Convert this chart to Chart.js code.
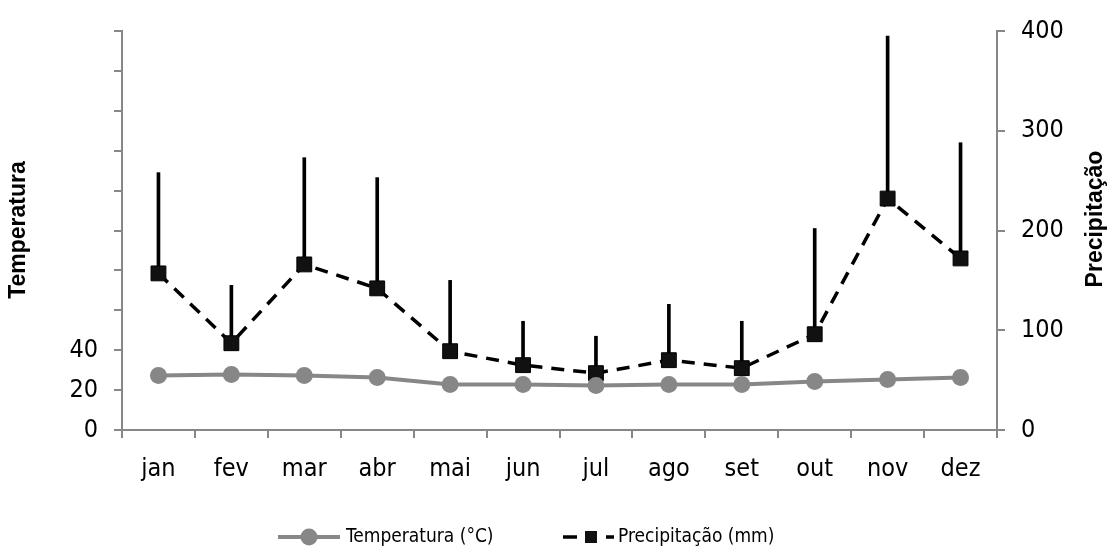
<!DOCTYPE html>
<html>
<head>
<meta charset="utf-8">
<script src="https://cdn.jsdelivr.net/npm/chart.js@4"></script>
<style>
  html, body { margin: 0; padding: 0; background: #fff; }
</style>
</head>
<body>
<canvas id="climaChart" width="1115" height="556"></canvas>
<script>
const meses = ['jan', 'fev', 'mar', 'abr', 'mai', 'jun', 'jul', 'ago', 'set', 'out', 'nov', 'dez'];
const temperatura = [27.3, 27.8, 27.3, 26.3, 22.8, 22.8, 22.3, 22.8, 22.8, 24.3, 25.3, 26.3];
const precipitacao = [157, 87, 166, 142, 79, 65, 57, 70, 62, 96, 232, 172];
// desvio padrão, só para cima
const desvioPrecip = [101, 58, 107, 111, 71, 44, 37, 56, 47, 106, 163, 116];
const rotulosTemp = [0, 20, 40];

const CINZA = '#878787';
const NARROW = "'Liberation Sans Narrow', 'DejaVu Sans Condensed', 'Arial Narrow', sans-serif";
const BOLD = "'Liberation Sans', Arial, sans-serif";

// títulos dos eixos (o da direita lê de baixo para cima, igual ao da esquerda)
const titulosPlugin = {
    id: 'titulosEixos',
    afterDraw(chart) {
        const ctx = chart.ctx;
        ctx.save();
        ctx.fillStyle = '#000';
        ctx.font = 'bold 23px ' + BOLD;
        ctx.textAlign = 'center';
        ctx.textBaseline = 'middle';
        [['Temperatura', 19, 230], ['Precipitação', 1096, 219]].forEach(([txt, x, y]) => {
            ctx.save();
            ctx.translate(x, y);
            ctx.rotate(-Math.PI / 2);
            ctx.fillText(txt, 0, 0);
            ctx.restore();
        });
        ctx.restore();
    }
};

// legenda embaixo com linha + marcador
const legendaPlugin = {
    id: 'legendaInferior',
    afterDraw(chart) {
        const ctx = chart.ctx;
        const y = 537;
        const dsT = chart.data.datasets[0];
        const dsP = chart.data.datasets[1];
        ctx.save();

        ctx.strokeStyle = dsT.borderColor;
        ctx.lineWidth = dsT.borderWidth;
        ctx.beginPath();
        ctx.moveTo(278, y);
        ctx.lineTo(340, y);
        ctx.stroke();
        ctx.fillStyle = dsT.pointBackgroundColor;
        ctx.beginPath();
        ctx.arc(309, y, dsT.pointRadius, 0, Math.PI * 2);
        ctx.fill();

        ctx.strokeStyle = dsP.borderColor;
        ctx.lineWidth = dsP.borderWidth;
        ctx.setLineDash([14, 29]);
        ctx.beginPath();
        ctx.moveTo(563, y);
        ctx.lineTo(614, y);
        ctx.stroke();
        ctx.setLineDash([]);
        ctx.fillStyle = dsP.pointBackgroundColor;
        ctx.fillRect(585, y - 6, 12, 12);

        ctx.fillStyle = '#000';
        ctx.font = '19px ' + NARROW;
        ctx.textBaseline = 'middle';
        ctx.fillText(dsT.label, 346, y);
        ctx.fillText(dsP.label, 618, y);
        ctx.restore();
    }
};

const eixoComum = {
    grid: { drawOnChartArea: false, color: CINZA, lineWidth: 2, tickLength: 8 },
    border: { color: CINZA, width: 2 },
};

new Chart(document.getElementById('climaChart'), {
    type: 'line',
    data: {
        labels: meses,
        datasets: [
            {
                label: 'Temperatura (°C)',
                data: temperatura,
                yAxisID: 'y',
                borderColor: CINZA,
                borderWidth: 4,
                pointRadius: 8.5,
                pointBackgroundColor: CINZA,
                pointBorderColor: CINZA,
                pointBorderWidth: 0,
                tension: 0,
                order: 1,
            },
            {
                label: 'Precipitação (mm)',
                data: precipitacao,
                yAxisID: 'y2',
                borderColor: '#000',
                borderWidth: 3.5,
                borderDash: [13, 9],
                pointStyle: 'rect',
                pointRadius: 10.5,
                pointBackgroundColor: '#111',
                pointBorderColor: '#000',
                pointBorderWidth: 1,
                tension: 0,
                order: 2,
            },
            {
                type: 'bar',
                label: 'desvio',
                data: precipitacao.map((v, i) => [v, v + desvioPrecip[i]]),
                yAxisID: 'y2',
                backgroundColor: '#000',
                barThickness: 3,
                borderWidth: 0,
                order: 3,
            },
        ],
    },
    options: {
        responsive: false,
        animation: false,
        layout: { padding: { top: 27, left: 0, right: 0, bottom: 0 } },
        plugins: { legend: { display: false }, tooltip: { enabled: false } },
        scales: {
            x: {
                offset: true,
                ...eixoComum,
                grid: { ...eixoComum.grid, offset: true },
                ticks: { color: '#000', font: { family: NARROW, size: 25 }, padding: 16 },
                afterFit: (s) => { s.height = 126; },
            },
            y: {
                position: 'left',
                min: 0,
                max: 200,
                ...eixoComum,
                ticks: {
                    stepSize: 20,
                    autoSkip: false,
                    color: '#000',
                    font: { family: NARROW, size: 25 },
                    padding: 16,
                    callback: (v) => (rotulosTemp.includes(v) ? v : ''),
                },
                afterFit: (s) => { s.width = 122; },
            },
            y2: {
                position: 'right',
                min: 0,
                max: 400,
                ...eixoComum,
                ticks: {
                    stepSize: 100,
                    color: '#000',
                    font: { family: NARROW, size: 25 },
                    padding: 16,
                },
                afterFit: (s) => { s.width = 118; },
            },
        },
    },
    plugins: [titulosPlugin, legendaPlugin],
});
</script>
</body>
</html>
